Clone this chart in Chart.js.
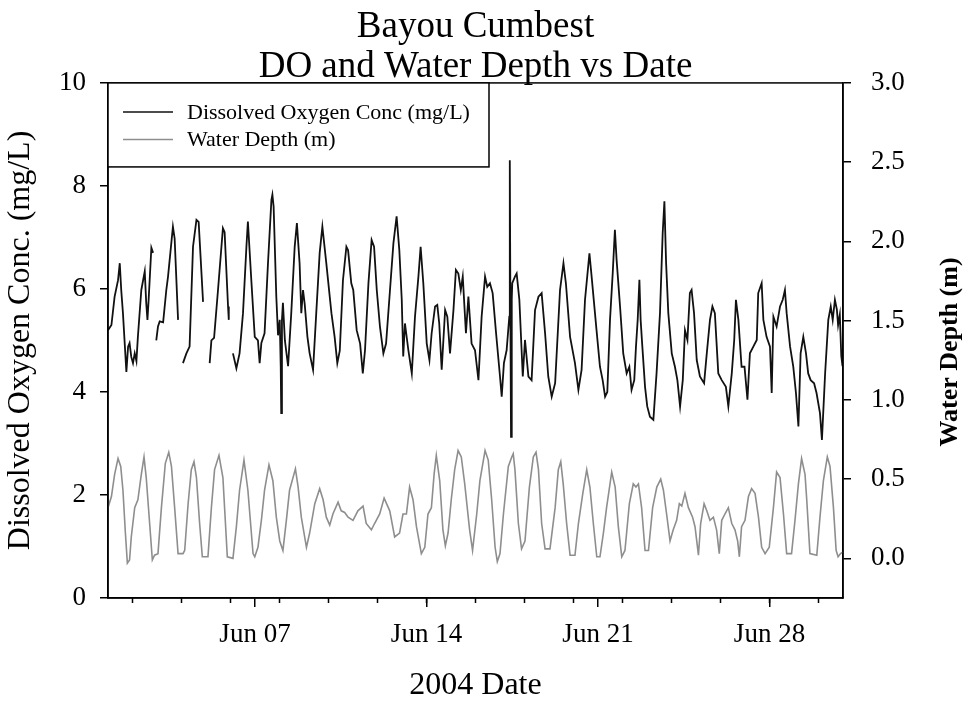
<!DOCTYPE html>
<html>
<head>
<meta charset="utf-8">
<title>Bayou Cumbest - DO and Water Depth vs Date</title>
<script src="https://cdn.jsdelivr.net/npm/chart.js@4.4.1/dist/chart.umd.min.js"></script>
<style>
    html, body { margin: 0; padding: 0; background: #fff; }
    #wrap { width: 966px; height: 704px; }
</style>
</head>
<body>
<div id="wrap"><canvas id="chart" width="966" height="704"></canvas></div>
<script>
// Time is in days after Jun 1 2004 00:00 (so day 6 = Jun 07)
var doDays = [
    0.00, 0.14, 0.27, 0.41, 0.48, 0.54, 0.61, 0.75, 0.82, 0.88,
    0.95, 1.02, 1.09, 1.16, 1.22, 1.36, 1.50, 1.56, 1.61, 1.66,
    1.77, 1.84, 1.90, 1.97, 2.04, 2.11, 2.25, 2.38, 2.45, 2.59,
    2.65, 2.72, 2.86, 2.95, 3.06, 3.20, 3.33, 3.47, 3.61, 3.70,
    3.88, 4.00, 4.15, 4.22, 4.33, 4.49, 4.69, 4.76, 4.90, 4.93,
    5.00, 5.10, 5.24, 5.37, 5.51, 5.65, 5.71, 5.85, 5.99, 6.12,
    6.19, 6.26, 6.39, 6.53, 6.67, 6.71, 6.76, 6.87, 6.94, 7.01,
    7.05, 7.07, 7.10, 7.14, 7.22, 7.35, 7.48, 7.62, 7.71, 7.82,
    7.89, 7.96, 8.03, 8.14, 8.23, 8.37, 8.50, 8.64, 8.75, 8.91,
    9.12, 9.25, 9.36, 9.46, 9.59, 9.73, 9.80, 9.93, 10.01, 10.15,
    10.29, 10.40, 10.49, 10.63, 10.76, 10.86, 10.97, 11.10, 11.24, 11.35,
    11.51, 11.65, 11.78, 11.89, 11.99, 12.05, 12.12, 12.26, 12.40, 12.53,
    12.67, 12.76, 12.87, 13.01, 13.12, 13.21, 13.35, 13.44, 13.52, 13.62,
    13.76, 13.85, 13.96, 14.10, 14.20, 14.30, 14.40, 14.48, 14.61, 14.71,
    14.84, 14.98, 15.12, 15.25, 15.39, 15.48, 15.59, 15.70, 15.84, 16.00,
    16.07, 16.16, 16.27, 16.38, 16.40, 16.43, 16.45, 16.48, 16.50, 16.61,
    16.68, 16.79, 16.93, 17.02, 17.16, 17.29, 17.43, 17.57, 17.70, 17.84,
    17.97, 18.11, 18.25, 18.45, 18.59, 18.69, 18.86, 19.06, 19.20, 19.33,
    19.47, 19.65, 19.74, 19.94, 20.08, 20.19, 20.29, 20.38, 20.49, 20.60,
    20.69, 20.76, 20.90, 21.03, 21.17, 21.28, 21.37, 21.48, 21.55, 21.62,
    21.69, 21.74, 21.81, 21.92, 22.01, 22.12, 22.26, 22.39, 22.53, 22.64,
    22.71, 22.78, 22.87, 23.01, 23.14, 23.24, 23.35, 23.46, 23.55, 23.65,
    23.75, 23.82, 23.92, 24.03, 24.16, 24.33, 24.44, 24.57, 24.67, 24.77,
    24.91, 25.05, 25.22, 25.32, 25.46, 25.56, 25.63, 25.73, 25.86, 25.98,
    26.10, 26.20, 26.34, 26.48, 26.54, 26.68, 26.75, 26.88, 27.02, 27.09,
    27.16, 27.29, 27.43, 27.54, 27.63, 27.70, 27.84, 27.97, 28.08, 28.18,
    28.27, 28.38, 28.49, 28.58, 28.68, 28.82, 28.92, 29.06, 29.14, 29.27,
    29.40, 29.50, 29.58, 29.67, 29.75, 29.80, 29.87, 29.93, 29.98
];
// null = logger gap
var doValues = [
    5.20, 5.30, 5.85, 6.17, 6.50, 5.98, 5.53, 4.39, 4.88, 4.95,
    4.68, 4.56, 4.75, 4.60, 5.07, 5.98, 6.34, 5.73, 5.40, 5.80,
    6.80, 6.70, null, 5.00, 5.27, 5.37, 5.35, 5.98, 6.24, 6.92,
    7.21, 6.98, 5.40, null, 4.56, 4.75, 4.88, 6.82, 7.34, 7.30,
    5.75, null, 4.56, 5.00, 5.05, 5.98, 7.18, 7.10, 5.66, 5.40,
    null, 4.75, 4.46, 4.75, 5.53, 6.82, 7.31, 6.17, 5.07, 5.00,
    4.56, 4.95, 5.14, 6.50, 7.73, 7.83, 7.60, 5.85, 5.10, 5.40,
    4.50, 3.59, 5.40, 5.73, 5.00, 4.50, 5.53, 6.82, 7.28, 6.50,
    5.53, 5.98, 5.70, 5.07, 4.75, 4.43, 5.53, 6.70, 7.21, 6.50,
    5.53, 5.07, 4.56, 4.80, 6.17, 6.82, 6.75, 6.11, 5.98, 5.20,
    4.94, 4.36, 4.81, 6.11, 6.95, 6.82, 5.98, 5.27, 4.75, 4.94,
    5.98, 6.89, 7.41, 6.76, 5.79, 4.69, 5.33, 4.81, 4.36, 5.46,
    6.24, 6.82, 6.11, 4.94, 4.62, 5.14, 5.66, 5.69, 5.33, 4.43,
    5.59, 5.46, 4.75, 5.59, 6.37, 6.30, 5.98, 6.24, 5.14, 5.85,
    4.94, 4.81, 4.23, 5.46, 6.24, 6.04, 6.11, 5.92, 5.14, 4.30,
    3.91, 4.56, 4.81, 5.46, 8.50, 5.00, 3.13, 5.80, 6.11, 6.24,
    6.30, 5.79, 4.30, 5.01, 4.30, 4.23, 5.59, 5.85, 5.92, 5.14,
    4.30, 3.91, 4.17, 5.98, 6.50, 6.11, 5.07, 4.56, 4.04, 4.43,
    5.79, 6.69, 6.24, 5.20, 4.49, 4.23, 3.91, 4.00, 5.40, 6.30,
    7.15, 6.56, 5.66, 4.75, 4.36, 4.49, 4.04, 4.23, 4.88, 5.40,
    6.18, 5.40, 4.88, 4.10, 3.72, 3.52, 3.46, 4.36, 5.53, 7.08,
    7.70, 6.50, 5.53, 4.75, 4.49, 4.23, 3.72, 4.23, 5.20, 5.01,
    5.92, 5.98, 5.53, 4.62, 4.30, 4.17, 4.75, 5.40, 5.66, 5.53,
    4.36, 4.23, 4.10, 3.72, 4.36, 5.01, 5.79, 5.40, 4.49, 4.49,
    3.85, 4.75, 4.88, 5.01, 5.92, 6.11, 5.40, 5.07, 4.88, 3.98,
    5.46, 5.27, 5.66, 5.79, 5.98, 5.53, 4.88, 4.49, 3.98, 3.33,
    4.75, 5.07, 4.75, 4.36, 4.23, 4.17, 3.98, 3.59, 3.07, 4.36,
    5.40, 5.66, 5.40, 5.79, 5.60, 5.30, 5.50, 4.70, 4.50
];

var depthDays = [
    0.00, 0.14, 0.27, 0.41, 0.52, 0.61, 0.71, 0.79, 0.88, 0.95,
    1.09, 1.22, 1.36, 1.47, 1.56, 1.70, 1.81, 1.90, 2.04, 2.18,
    2.34, 2.48, 2.59, 2.72, 2.86, 3.06, 3.13, 3.27, 3.40, 3.51,
    3.61, 3.74, 3.85, 4.08, 4.22, 4.35, 4.53, 4.69, 4.87, 5.10,
    5.24, 5.37, 5.55, 5.71, 5.92, 5.99, 6.12, 6.26, 6.39, 6.57,
    6.73, 6.87, 7.01, 7.14, 7.28, 7.41, 7.65, 7.76, 7.89, 8.10,
    8.23, 8.44, 8.64, 8.78, 8.91, 9.05, 9.18, 9.39, 9.52, 9.66,
    9.80, 10.00, 10.20, 10.41, 10.54, 10.75, 10.88, 11.09, 11.27, 11.50,
    11.70, 11.90, 12.04, 12.18, 12.31, 12.45, 12.59, 12.79, 12.93, 13.06,
    13.20, 13.31, 13.40, 13.54, 13.67, 13.77, 13.88, 14.01, 14.15, 14.29,
    14.42, 14.56, 14.76, 14.88, 15.05, 15.18, 15.39, 15.52, 15.66, 15.80,
    15.89, 16.00, 16.14, 16.34, 16.48, 16.54, 16.61, 16.75, 16.88, 17.02,
    17.20, 17.36, 17.47, 17.57, 17.70, 17.84, 18.04, 18.25, 18.38, 18.48,
    18.58, 18.72, 18.86, 19.06, 19.20, 19.38, 19.54, 19.67, 19.81, 19.95,
    20.08, 20.22, 20.35, 20.56, 20.70, 20.83, 20.97, 21.10, 21.28, 21.44,
    21.55, 21.65, 21.78, 21.92, 22.06, 22.23, 22.40, 22.56, 22.67, 22.80,
    22.94, 23.07, 23.21, 23.32, 23.42, 23.55, 23.69, 23.86, 23.96, 24.10,
    24.19, 24.33, 24.44, 24.57, 24.71, 24.84, 24.95, 25.05, 25.18, 25.32,
    25.46, 25.59, 25.70, 25.77, 25.86, 26.00, 26.14, 26.27, 26.41, 26.55,
    26.68, 26.82, 26.99, 27.16, 27.29, 27.43, 27.57, 27.70, 27.90, 28.04,
    28.18, 28.31, 28.45, 28.52, 28.65, 28.93, 29.06, 29.20, 29.36, 29.47,
    29.61, 29.72, 29.80, 29.90, 30.00
];
var depthValues = [
    0.32, 0.39, 0.53, 0.63, 0.58, 0.43, 0.16, -0.03, -0.01, 0.135,
    0.32, 0.37, 0.53, 0.64, 0.51, 0.22, -0.01, 0.02, 0.03, 0.32,
    0.60, 0.67, 0.58, 0.32, 0.03, 0.03, 0.05, 0.345, 0.56, 0.61,
    0.51, 0.22, 0.01, 0.01, 0.32, 0.56, 0.65, 0.51, 0.01, 0.00,
    0.20, 0.43, 0.62, 0.43, 0.03, 0.01, 0.07, 0.24, 0.43, 0.59,
    0.49, 0.26, 0.11, 0.05, 0.24, 0.43, 0.565, 0.45, 0.26, 0.07,
    0.16, 0.345, 0.44, 0.37, 0.26, 0.21, 0.28, 0.355, 0.30, 0.29,
    0.26, 0.24, 0.30, 0.33, 0.22, 0.18, 0.22, 0.28, 0.38, 0.30,
    0.135, 0.16, 0.28, 0.28, 0.45, 0.37, 0.20, 0.03, 0.07, 0.28,
    0.32, 0.53, 0.65, 0.49, 0.18, 0.08, 0.16, 0.37, 0.56, 0.68,
    0.64, 0.47, 0.18, 0.05, 0.28, 0.49, 0.68, 0.62, 0.37, 0.07,
    -0.02, 0.03, 0.28, 0.58, 0.64, 0.66, 0.56, 0.22, 0.06, 0.11,
    0.45, 0.64, 0.67, 0.56, 0.22, 0.06, 0.06, 0.32, 0.56, 0.61,
    0.47, 0.22, 0.02, 0.02, 0.22, 0.41, 0.56, 0.45, 0.22, 0.01,
    0.01, 0.16, 0.32, 0.545, 0.45, 0.20, 0.01, 0.05, 0.345, 0.47,
    0.45, 0.47, 0.32, 0.05, 0.05, 0.32, 0.45, 0.50, 0.43, 0.28,
    0.11, 0.18, 0.24, 0.345, 0.33, 0.41, 0.32, 0.26, 0.20, 0.02,
    0.22, 0.345, 0.30, 0.24, 0.26, 0.18, 0.03, 0.24, 0.28, 0.32,
    0.22, 0.18, 0.11, 0.01, 0.20, 0.24, 0.39, 0.44, 0.41, 0.26,
    0.07, 0.03, 0.07, 0.32, 0.545, 0.51, 0.28, 0.03, 0.03, 0.24,
    0.47, 0.63, 0.53, 0.37, 0.03, 0.02, 0.26, 0.49, 0.64, 0.58,
    0.32, 0.05, 0.01, 0.03, 0.04
];

var majorDays = [6, 13, 20, 27];   // Jun 07, 14, 21, 28
var minorDays = [1, 3, 5, 7, 9, 11, 13, 15, 17, 19, 21, 23, 25, 27, 29];
var doTicks = [0, 2, 4, 6, 8, 10];
var depthTicks = [0, 0.5, 1.0, 1.5, 2.0, 2.5, 3.0];

var serif = '"Liberation Serif", "Times New Roman", serif';

function toPoints(days, values) {
    return days.map(function(d, i) {
        return { x: d, y: values[i] };
    });
}

function pad2(n) {
    return n < 10 ? '0' + n : '' + n;
}

// frame, minor date ticks, boxed legend and the right axis title
var extras = {
    id: 'extras',
    afterDatasetsDraw: function(chart) {
        var ctx = chart.ctx;
        var a = chart.chartArea;
        var xs = chart.scales.x;
        ctx.save();
        ctx.strokeStyle = '#000';
        ctx.lineWidth = 1.5;
        ctx.strokeRect(a.left, a.top, a.right - a.left, a.bottom - a.top);

        ctx.beginPath();
        minorDays.forEach(function(d) {
            var px = xs.getPixelForValue(d);
            ctx.moveTo(px, a.bottom);
            ctx.lineTo(px, a.bottom + 5);
        });
        ctx.stroke();

        // legend
        var lx = a.left, ly = a.top, lw = 381, lh = 84;
        ctx.fillStyle = '#fff';
        ctx.fillRect(lx, ly, lw, lh);
        ctx.strokeRect(lx, ly, lw, lh);
        ctx.font = '22px ' + serif;
        ctx.textBaseline = 'middle';
        ctx.textAlign = 'left';
        chart.data.datasets.forEach(function(ds, i) {
            var y = ly + 29 + i * 27.5;
            ctx.strokeStyle = ds.borderColor;
            ctx.lineWidth = 1.5;
            ctx.beginPath();
            ctx.moveTo(lx + 15, y);
            ctx.lineTo(lx + 65, y);
            ctx.stroke();
            ctx.fillStyle = '#000';
            ctx.fillText(ds.label, lx + 79, y + 1);
        });

        // right axis title reads bottom to top
        ctx.translate(950, 352);
        ctx.rotate(-Math.PI / 2);
        ctx.font = 'bold 26px ' + serif;
        ctx.textAlign = 'center';
        ctx.fillStyle = '#000';
        ctx.fillText('Water Depth (m)', 0, 0);
        ctx.restore();
    }
};

var ctx = document.getElementById('chart').getContext('2d');
var chart = new Chart(ctx, {
    type: 'line',
    data: {
        datasets: [{
            label: 'Dissolved Oxygen Conc (mg/L)',
            data: toPoints(doDays, doValues),
            yAxisID: 'yDO',
            borderColor: '#111111',
            borderWidth: 1.8,
            pointRadius: 0,
            tension: 0,
            spanGaps: false
        }, {
            label: 'Water Depth (m)',
            data: toPoints(depthDays, depthValues),
            yAxisID: 'yDepth',
            borderColor: '#8e8e8e',
            borderWidth: 1.6,
            pointRadius: 0,
            tension: 0
        }]
    },
    options: {
        responsive: false,
        animation: false,
        layout: { padding: 0 },
        plugins: {
            legend: { display: false },
            tooltip: { enabled: false },
            title: {
                display: true,
                fullSize: false,
                text: ['Bayou Cumbest', 'DO and Water Depth vs Date'],
                color: '#000',
                font: { family: serif, size: 37, weight: 'normal', lineHeight: 1.08 },
                padding: { top: 7, bottom: -4 }
            }
        },
        scales: {
            x: {
                type: 'linear',
                position: 'bottom',
                min: 0,
                max: 30,
                afterBuildTicks: function(axis) {
                    axis.ticks = majorDays.map(function(d) { return { value: d }; });
                },
                afterFit: function(scale) { scale.height = 106; },
                grid: { drawOnChartArea: false, tickLength: 9, color: '#000', lineWidth: 1.5 },
                border: { display: true, color: '#000', width: 1.5 },
                ticks: {
                    color: '#000',
                    padding: 12,
                    maxRotation: 0,
                    font: { family: serif, size: 27 },
                    callback: function(v) { return 'Jun ' + pad2(v + 1); }
                },
                title: {
                    display: true,
                    text: '2004 Date',
                    color: '#000',
                    font: { family: serif, size: 32, lineHeight: 1.0 },
                    padding: { top: 0, bottom: 2 }
                }
            },
            yDO: {
                type: 'linear',
                position: 'left',
                min: 0,
                max: 10,
                afterBuildTicks: function(axis) {
                    axis.ticks = doTicks.map(function(v) { return { value: v }; });
                },
                afterFit: function(scale) { scale.width = 108; },
                grid: { drawOnChartArea: false, tickLength: 8, color: '#000', lineWidth: 1.5 },
                border: { display: true, color: '#000', width: 1.5 },
                ticks: {
                    color: '#000',
                    padding: 14,
                    font: { family: serif, size: 27 }
                },
                title: {
                    display: true,
                    text: 'Dissolved Oxygen Conc. (mg/L)',
                    color: '#000',
                    font: { family: serif, size: 32, lineHeight: 1.0 },
                    padding: { top: 5, bottom: 0 }
                }
            },
            yDepth: {
                type: 'linear',
                position: 'right',
                min: -0.25,
                max: 3.0,
                afterBuildTicks: function(axis) {
                    axis.ticks = depthTicks.map(function(v) { return { value: v }; });
                },
                afterFit: function(scale) { scale.width = 123; },
                grid: { drawOnChartArea: false, tickLength: 8, color: '#000', lineWidth: 1.5 },
                border: { display: true, color: '#000', width: 1.5 },
                ticks: {
                    color: '#000',
                    padding: 20,
                    font: { family: serif, size: 27 },
                    callback: function(v) { return v.toFixed(1); }
                }
            }
        }
    },
    plugins: [extras]
});
</script>
</body>
</html>
